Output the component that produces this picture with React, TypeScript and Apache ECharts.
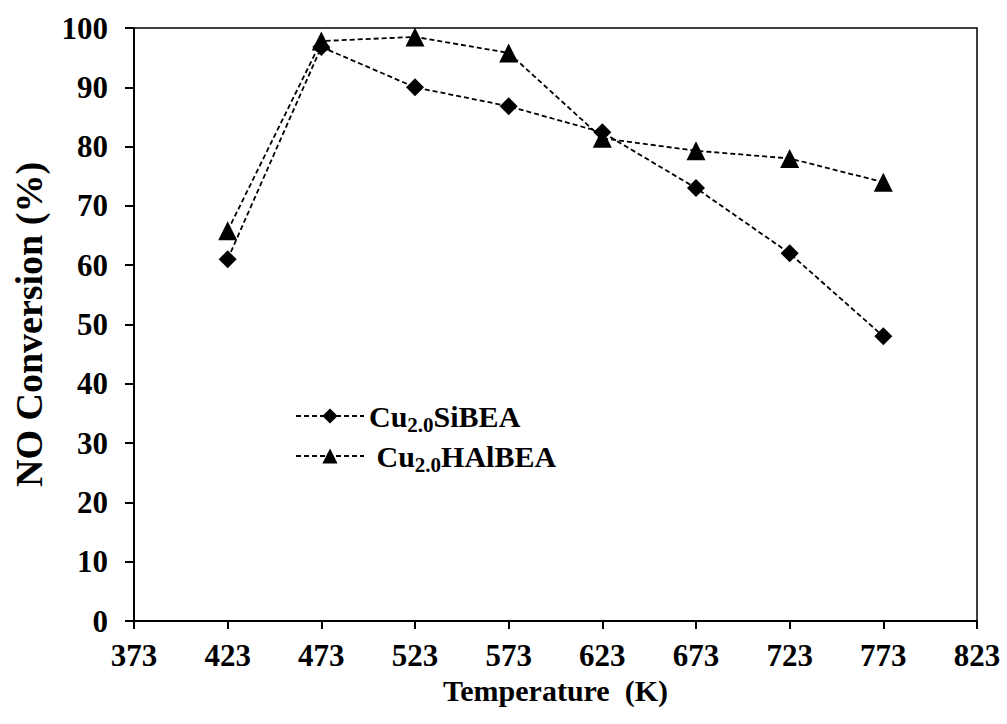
import React, { useEffect, useRef } from "react";
import * as echarts from "echarts";

const xLabels = ["373", "423", "473", "523", "573", "623", "673", "723", "773", "823"];
const siBEA = [null, 61, 96.8, 90, 86.8, 82.4, 73, 62, 48, null];
const hAlBEA = [null, 65.8, 97.8, 98.5, 95.8, 81.4, 79.3, 78, 74, null];
const seriesNames = ["Cu2.0SiBEA", "Cu2.0HAlBEA"];

const FONT = "Liberation Serif";

export default function App() {
  const ref = useRef<HTMLDivElement>(null);
  useEffect(() => {
    if (!ref.current) return;
    const chart = echarts.init(ref.current, undefined, { renderer: "svg" });
    const lineStyle = { color: "#000", width: 1.8, type: [5, 3] as any };
    chart.setOption({
      animation: false,
      backgroundColor: "#fff",
      textStyle: { fontFamily: FONT },
      grid: {
        left: 134,
        right: 30,
        top: 28,
        bottom: 103,
        show: true,
        borderColor: "#000",
        borderWidth: 1.5,
      },
      legend: {
        orient: "vertical",
        left: 290,
        top: 396,
        itemWidth: 68,
        itemHeight: 19,
        itemGap: 6,
        data: seriesNames,
        formatter: (name: string) =>
          name === "Cu2.0SiBEA"
            ? "{a|Cu}{b|2.0}{a|SiBEA}"
            : "{a| Cu}{b|2.0}{a|HAlBEA}",
        textStyle: {
          fontFamily: FONT,
          rich: {
            a: {
              fontFamily: FONT,
              fontWeight: "bold",
              fontSize: 30,
              color: "#000",
              lineHeight: 38,
              verticalAlign: "middle",
            },
            b: {
              fontFamily: FONT,
              fontWeight: "bold",
              fontSize: 21,
              color: "#000",
              lineHeight: 20,
              verticalAlign: "bottom",
            },
          },
        },
      },
      xAxis: {
        type: "category",
        data: xLabels,
        boundaryGap: false,
        name: "Temperature  (K)",
        nameLocation: "middle",
        nameGap: 38,
        nameTextStyle: {
          fontFamily: FONT,
          fontWeight: "bold",
          fontSize: 30,
          color: "#000",
        },
        axisLine: { lineStyle: { color: "#000", width: 2 } },
        axisTick: { show: true, inside: false, length: 8, lineStyle: { color: "#000", width: 2 } },
        axisLabel: {
          fontFamily: FONT,
          fontWeight: "bold",
          fontSize: 31,
          color: "#000",
          margin: 19,
          interval: 0,
        },
        splitLine: { show: false },
      },
      yAxis: {
        type: "value",
        min: 0,
        max: 100,
        interval: 10,
        name: "NO Conversion (%)",
        nameLocation: "middle",
        nameGap: 86,
        nameTextStyle: {
          fontFamily: FONT,
          fontWeight: "bold",
          fontSize: 38,
          color: "#000",
        },
        axisLine: { show: true, lineStyle: { color: "#000", width: 2 } },
        axisTick: { show: true, inside: false, length: 9, lineStyle: { color: "#000", width: 2 } },
        axisLabel: {
          fontFamily: FONT,
          fontWeight: "bold",
          fontSize: 31,
          color: "#000",
          margin: 26,
        },
        splitLine: { show: false },
      },
      series: [
        {
          name: seriesNames[0],
          type: "line",
          data: siBEA,
          symbol: "diamond",
          symbolSize: 18,
          itemStyle: { color: "#000" },
          lineStyle,
        },
        {
          name: seriesNames[1],
          type: "line",
          data: hAlBEA,
          symbol: "triangle",
          symbolSize: 19,
          itemStyle: { color: "#000" },
          lineStyle,
        },
      ],
    });
    return () => chart.dispose();
  }, []);
  return (
    <div
      ref={ref}
      style={{ position: "fixed", left: 0, top: 0, width: 1007, height: 724, background: "#fff" }}
    />
  );
}
